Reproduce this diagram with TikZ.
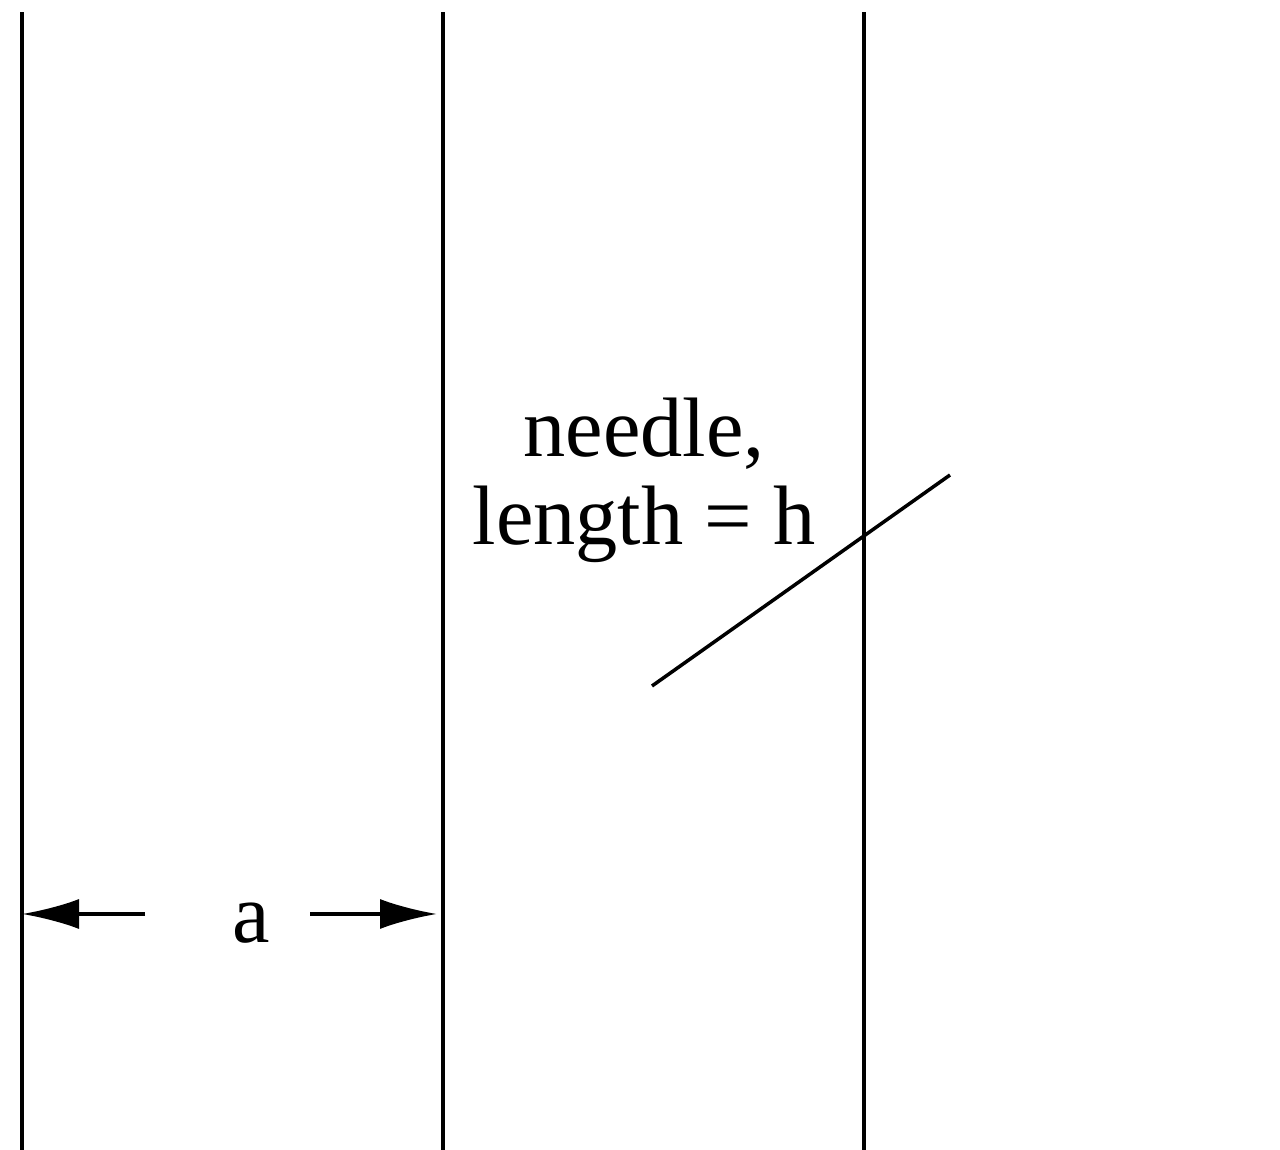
\documentclass[tikz,border=0pt]{standalone}
\usepackage{fontspec}
\setmainfont{Liberation Serif}
\usetikzlibrary{arrows.meta}

\begin{document}
\begin{tikzpicture}[line width=1pt,
      every node/.style={font=\fontsize{24}{25}\selectfont},
      dimarrow/.style={-{Latex[length=5.7mm, width=3.0mm]}}]
    \useasboundingbox (0,0) rectangle (12.8,11.5);
    \draw (0.22,0) -- (0.22,11.38);
    \draw (4.43,0) -- (4.43,11.38);
    \draw (8.64,0) -- (8.64,11.38);
    \coordinate (N1) at (6.52,4.64);
    \coordinate (N2) at (9.50,6.75);
    \draw (N1) -- (N2);
    \node[align=center] (LBL) at (6.44,6.70) {needle,\\length = h};
    \node (A) at (2.51,2.27) {a};
    \coordinate (AL) at (0.22,2.36);
    \coordinate (AR) at (4.37,2.36);
    \draw[dimarrow] (1.45,2.36) -- (AL);
    \draw[dimarrow] (3.10,2.36) -- (AR);
  \end{tikzpicture}
\end{document}
